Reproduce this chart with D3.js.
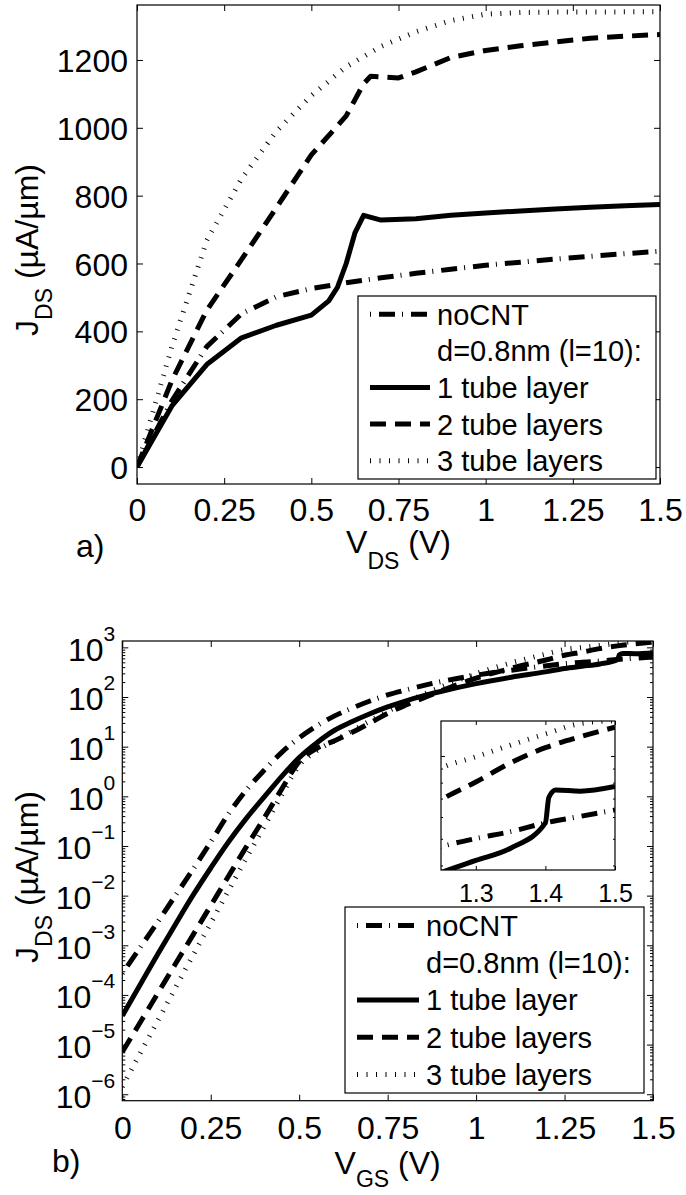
<!DOCTYPE html>
<html>
<head>
<meta charset="utf-8">
<script src="https://cdn.jsdelivr.net/npm/d3@7"></script>
<style>
  html, body { margin: 0; padding: 0; background: #fff; }
  svg { display: block; }
</style>
</head>
<body>
<svg id="fig" width="686" height="1195"></svg>
<script>
// ---------- (a) output characteristics: J_DS vs V_DS ----------
const vdsNoCNT = [0, 0.1, 0.2, 0.3, 0.4, 0.5, 0.6, 0.7, 0.8, 0.9, 1.0, 1.1, 1.2, 1.3, 1.4, 1.5];
const jdsNoCNT = [0, 195, 355, 452, 502, 526, 543, 558, 571, 583, 595, 604, 613, 621, 629, 636];
const vds1Tube = [0, 0.1, 0.2, 0.3, 0.4, 0.5, 0.55, 0.575, 0.6, 0.625, 0.65, 0.7, 0.8, 0.9, 1.0, 1.1, 1.2, 1.3, 1.4, 1.5];
const jds1Tube = [0, 180, 302, 381, 418, 448, 490, 530, 600, 690, 742, 728, 732, 742, 749, 755, 761, 766, 770, 774];
const vds2Tube = [0, 0.1, 0.2, 0.3, 0.4, 0.5, 0.6, 0.65, 0.67, 0.7, 0.75, 0.8, 0.9, 1.0, 1.1, 1.2, 1.3, 1.4, 1.5];
const jds2Tube = [0, 255, 462, 612, 765, 920, 1035, 1130, 1152, 1150, 1147, 1165, 1207, 1228, 1242, 1253, 1264, 1270, 1275];
const vds3Tube = [0, 0.1, 0.2, 0.3, 0.4, 0.5, 0.6, 0.7, 0.8, 0.9, 1.0, 1.1, 1.2, 1.3, 1.4, 1.5];
const jds3Tube = [0, 355, 668, 850, 990, 1095, 1180, 1240, 1283, 1316, 1335, 1340, 1341, 1341, 1342, 1342];

// ---------- (b) transfer characteristics: J_DS vs V_GS (log) ----------
const vgsB = [0, 0.05, 0.1, 0.15, 0.2, 0.25, 0.3, 0.35, 0.4, 0.45, 0.5, 0.55, 0.6, 0.65, 0.7, 0.75, 0.8, 0.85, 0.9, 1.0, 1.1, 1.2, 1.25, 1.3, 1.35, 1.4, 1.45, 1.5];
const vgsB1Tube = [0, 0.05, 0.1, 0.15, 0.2, 0.25, 0.3, 0.35, 0.4, 0.45, 0.5, 0.55, 0.6, 0.65, 0.7, 0.75, 0.8, 0.85, 0.9, 1.0, 1.1, 1.2, 1.25, 1.3, 1.35, 1.4, 1.405, 1.415, 1.45, 1.5];
const jgsNoCNT = [2.7e-4, 8.9e-4, 2.95e-3, 1.0e-2, 3.4e-2, 0.12, 0.44, 1.32, 3.3, 7.6, 15.1, 26.3, 41.7, 60, 83, 110, 138, 170, 204, 275, 347, 427, 468, 501, 531, 571, 603, 636];
const jgs1Tube = [3.8e-5, 1.58e-4, 6.6e-4, 2.63e-3, 1.02e-2, 3.6e-2, 0.12, 0.355, 0.95, 2.5, 6.0, 12.0, 21.4, 32, 46, 63, 83, 105, 129, 186, 251, 324, 376, 417, 462, 571, 708, 752, 745, 774];
const jgs2Tube = [7.1e-6, 2.75e-5, 1.07e-4, 4.2e-4, 1.62e-3, 6.3e-3, 2.45e-2, 9.5e-2, 0.355, 1.38, 5.0, 9.3, 13.2, 19.5, 30, 47, 68, 95, 132, 240, 380, 562, 692, 804, 944, 1072, 1175, 1272];
const jgs3Tube = [1.41e-6, 6.6e-6, 3.0e-5, 1.38e-4, 6.3e-4, 2.8e-3, 1.26e-2, 5.6e-2, 0.24, 1.05, 4.2, 8.3, 13.2, 20.9, 33, 51, 78, 112, 158, 295, 490, 741, 902, 993, 1096, 1202, 1312, 1343];

// ---------- ticks and legend text ----------
const xTicks = [0, 0.25, 0.5, 0.75, 1, 1.25, 1.5];
const yTicksA = [0, 200, 400, 600, 800, 1000, 1200];
const decadesB = [-6, -5, -4, -3, -2, -1, 0, 1, 2, 3];
const insetXTicks = [1.3, 1.4, 1.5];
const legendLabels = ["noCNT", "d=0.8nm (l=10):", "1 tube layer", "2 tube layers", "3 tube layers"];

// ---------- line styles ----------
const FONT = '"Liberation Sans", Arial, Helvetica, sans-serif';
const styleNoCNT = { dash: "16 7 1 8", offset: 23 };
const style1Tube = { dash: null, offset: 0 };
const style2Tube = { dash: "16 9", offset: 0 };
const style3Tube = { dash: "1 8.5", offset: 0 };
const legendStyles = [styleNoCNT, null, style1Tube, style2Tube, style3Tube];
const LW = 5;

const svg = d3.select("#fig").attr("font-family", FONT);
svg.append("rect").attr("width", 686).attr("height", 1195).attr("fill", "#fff");

function zip(xs, ys) { return xs.map((v, i) => [v, ys[i]]); }

function drawSeries(g, pts, x, y, st, curve) {
  const line = d3.line().x(d => x(d[0])).y(d => y(d[1])).curve(curve);
  const p = g.append("path")
    .attr("d", line(pts))
    .attr("fill", "none")
    .attr("stroke", "#000")
    .attr("stroke-width", LW)
    .attr("stroke-linejoin", "round")
    .attr("stroke-linecap", "butt");
  if (st.dash) p.attr("stroke-dasharray", st.dash).attr("stroke-dashoffset", st.offset);
}

function styleAxis(g, size) {
  g.select(".domain").remove();
  g.selectAll(".tick line").attr("stroke", "#000").attr("stroke-width", 1);
  g.selectAll(".tick text").attr("fill", "#000");
  g.attr("font-family", FONT).attr("font-size", size);
}

function frame(x, y) {
  const [x0, x1] = x.range(), [y0, y1] = y.range();
  svg.append("rect")
    .attr("x", x0).attr("y", y1).attr("width", x1 - x0).attr("height", y0 - y1)
    .attr("fill", "none").attr("stroke", "#000").attr("stroke-width", 1.2);
}

function clip(id, x, y) {
  const [x0, x1] = x.range(), [y0, y1] = y.range();
  svg.append("clipPath").attr("id", id).append("rect")
    .attr("x", x0).attr("y", y1).attr("width", x1 - x0).attr("height", y0 - y1);
}

function legend(x0, y0, w, h, sampleX, sampleLen, textX) {
  const g = svg.append("g");
  g.append("rect").attr("x", x0).attr("y", y0).attr("width", w).attr("height", h)
    .attr("fill", "#fff").attr("stroke", "#000").attr("stroke-width", 1.2);
  const rowH = h / legendLabels.length;
  legendLabels.forEach((lab, i) => {
    const cy = y0 + rowH * (i + 0.5);
    const st = legendStyles[i];
    if (st) {
      const l = g.append("line").attr("x1", sampleX).attr("x2", sampleX + sampleLen)
        .attr("y1", cy).attr("y2", cy).attr("stroke", "#000").attr("stroke-width", LW);
      if (st.dash) l.attr("stroke-dasharray", st.dash).attr("stroke-dashoffset", st.offset);
    }
    g.append("text").attr("x", textX).attr("y", cy).attr("dy", "0.36em")
      .attr("font-size", 29).text(lab);
  });
}

function axisTitle(x, y, main, sub, rest, rotate, drop) {
  const t = svg.append("text")
    .attr("transform", `translate(${x},${y})` + (rotate ? " rotate(-90)" : ""))
    .attr("text-anchor", "middle").attr("font-size", 32);
  t.append("tspan").text(main);
  t.append("tspan").attr("font-size", 23).attr("dy", drop).text(sub);
  t.append("tspan").attr("dy", -drop).text(rest);
}

// =================== panel (a) ===================
const xA = d3.scaleLinear().domain([0, 1.5]).range([137, 660]);
const yA = d3.scaleLinear().domain([-50, 1362]).range([484, 5]);
clip("clipA", xA, yA);

const plotA = svg.append("g").attr("clip-path", "url(#clipA)");
drawSeries(plotA, zip(vdsNoCNT, jdsNoCNT), xA, yA, styleNoCNT, d3.curveLinear);
drawSeries(plotA, zip(vds1Tube, jds1Tube), xA, yA, style1Tube, d3.curveLinear);
drawSeries(plotA, zip(vds2Tube, jds2Tube), xA, yA, style2Tube, d3.curveLinear);
drawSeries(plotA, zip(vds3Tube, jds3Tube), xA, yA, style3Tube, d3.curveLinear);

svg.append("g").attr("transform", `translate(0,${yA.range()[0]})`)
  .call(d3.axisBottom(xA).tickValues(xTicks).tickSize(-6).tickPadding(14.5).tickFormat(d => String(d)))
  .call(g => styleAxis(g, 32));
svg.append("g").attr("transform", `translate(0,${yA.range()[1]})`)
  .call(d3.axisTop(xA).tickValues(xTicks).tickSize(-6).tickFormat(""))
  .call(g => styleAxis(g, 32));
svg.append("g").attr("transform", `translate(${xA.range()[0]},0)`)
  .call(d3.axisLeft(yA).tickValues(yTicksA).tickSize(-6).tickPadding(9).tickFormat(d => String(d)))
  .call(g => styleAxis(g, 32))
  .call(g => g.selectAll(".tick text").attr("dy", "0.36em"));
svg.append("g").attr("transform", `translate(${xA.range()[1]},0)`)
  .call(d3.axisRight(yA).tickValues(yTicksA).tickSize(-6).tickFormat(""))
  .call(g => styleAxis(g, 32));
frame(xA, yA);

legend(358, 296, 298, 183, 370, 60, 437);

axisTitle(398.5, 553, "V", "DS", " (V)", false, 16);
axisTitle(38, 250, "J", "DS", " (µA/µm)", true, 14);
svg.append("text").attr("x", 76).attr("y", 557).attr("font-size", 32).text("a)");

// =================== panel (b) ===================
const xB = d3.scaleLinear().domain([0, 1.5]).range([122.3, 653]);
const yB = d3.scaleLog().domain([Math.pow(10, -6.13), Math.pow(10, 3.128)]).range([1100.7, 641]);
clip("clipB", xB, yB);

const plotB = svg.append("g").attr("clip-path", "url(#clipB)");
drawSeries(plotB, zip(vgsB, jgsNoCNT), xB, yB, styleNoCNT, d3.curveMonotoneX);
drawSeries(plotB, zip(vgsB1Tube, jgs1Tube), xB, yB, style1Tube, d3.curveMonotoneX);
drawSeries(plotB, zip(vgsB, jgs2Tube), xB, yB, style2Tube, d3.curveMonotoneX);
drawSeries(plotB, zip(vgsB, jgs3Tube), xB, yB, style3Tube, d3.curveMonotoneX);

const majorB = decadesB.map(e => Math.pow(10, e));
const minorB = [];
for (let e = -7; e <= 3; e++) for (let k = 2; k <= 9; k++) {
  const v = k * Math.pow(10, e);
  if (v > yB.domain()[0] && v < yB.domain()[1]) minorB.push(v);
}

svg.append("g").attr("transform", `translate(0,${yB.range()[0]})`)
  .call(d3.axisBottom(xB).tickValues(xTicks).tickSize(-6).tickPadding(16).tickFormat(d => String(d)))
  .call(g => styleAxis(g, 32));
svg.append("g").attr("transform", `translate(0,${yB.range()[1]})`)
  .call(d3.axisTop(xB).tickValues(xTicks).tickSize(-6).tickFormat(""))
  .call(g => styleAxis(g, 32));

const leftB = svg.append("g").attr("transform", `translate(${xB.range()[0]},0)`)
  .call(d3.axisLeft(yB).tickValues(majorB).tickSize(-6).tickPadding(7).tickFormat(""))
  .call(g => styleAxis(g, 32));
leftB.selectAll(".tick text").each(function (d) {
  const e = Math.round(Math.log10(d));
  const t = d3.select(this).attr("dy", "0.4em");
  t.append("tspan").text("10");
  t.append("tspan").attr("font-size", 21).attr("dy", -20).text(String(e).replace("-", "\u2212"));
});
svg.append("g").attr("transform", `translate(${xB.range()[0]},0)`)
  .call(d3.axisLeft(yB).tickValues(minorB).tickSize(-3).tickFormat(""))
  .call(g => styleAxis(g, 32));
svg.append("g").attr("transform", `translate(${xB.range()[1]},0)`)
  .call(d3.axisRight(yB).tickValues(majorB).tickSize(-6).tickFormat(""))
  .call(g => styleAxis(g, 32));
svg.append("g").attr("transform", `translate(${xB.range()[1]},0)`)
  .call(d3.axisRight(yB).tickValues(minorB).tickSize(-3).tickFormat(""))
  .call(g => styleAxis(g, 32));
frame(xB, yB);

// inset: zoom on the high-V_GS end
const xI = d3.scaleLinear().domain([1.25, 1.5]).range([441, 615]);
const yI = d3.scaleLog().domain([385, 1340]).range([870, 721]);
svg.append("rect").attr("x", 441).attr("y", 721).attr("width", 174).attr("height", 149).attr("fill", "#fff");
clip("clipI", xI, yI);
const plotI = svg.append("g").attr("clip-path", "url(#clipI)");
drawSeries(plotI, zip(vgsB, jgsNoCNT), xI, yI, styleNoCNT, d3.curveMonotoneX);
drawSeries(plotI, zip(vgsB1Tube, jgs1Tube), xI, yI, style1Tube, d3.curveMonotoneX);
drawSeries(plotI, zip(vgsB, jgs2Tube), xI, yI, style2Tube, d3.curveMonotoneX);
drawSeries(plotI, zip(vgsB, jgs3Tube), xI, yI, style3Tube, d3.curveMonotoneX);

const minorI = [400, 500, 600, 700, 800, 900];
svg.append("g").attr("transform", `translate(0,${yI.range()[0]})`)
  .call(d3.axisBottom(xI).tickValues(insetXTicks).tickSize(-4).tickPadding(14).tickFormat(d => d.toFixed(1)))
  .call(g => styleAxis(g, 25));
svg.append("g").attr("transform", `translate(0,${yI.range()[1]})`)
  .call(d3.axisTop(xI).tickValues(insetXTicks).tickSize(-4).tickFormat(""))
  .call(g => styleAxis(g, 25));
svg.append("g").attr("transform", `translate(${xI.range()[0]},0)`)
  .call(d3.axisLeft(yI).tickValues([1000]).tickSize(-4).tickFormat(""))
  .call(g => styleAxis(g, 25));
svg.append("g").attr("transform", `translate(${xI.range()[0]},0)`)
  .call(d3.axisLeft(yI).tickValues(minorI).tickSize(-2).tickFormat(""))
  .call(g => styleAxis(g, 25));
svg.append("g").attr("transform", `translate(${xI.range()[1]},0)`)
  .call(d3.axisRight(yI).tickValues([1000]).tickSize(-4).tickFormat(""))
  .call(g => styleAxis(g, 25));
svg.append("g").attr("transform", `translate(${xI.range()[1]},0)`)
  .call(d3.axisRight(yI).tickValues(minorI).tickSize(-2).tickFormat(""))
  .call(g => styleAxis(g, 25));
frame(xI, yI);

legend(345, 907, 299, 186, 357, 62, 426);

axisTitle(387.6, 1174, "V", "GS", " (V)", false, 13);
axisTitle(38, 877, "J", "DS", " (µA/µm)", true, 14);
svg.append("text").attr("x", 52).attr("y", 1172).attr("font-size", 32).text("b)");
</script>
</body>
</html>
